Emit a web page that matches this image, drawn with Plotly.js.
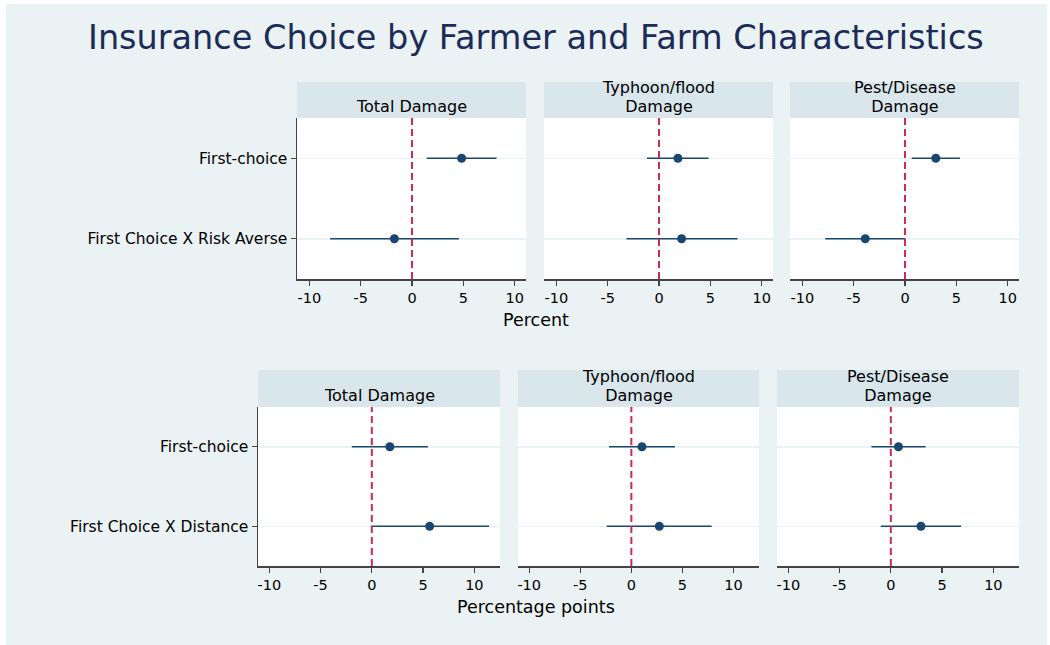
<!DOCTYPE html>
<html>
<head>
<meta charset="utf-8">
<script src="https://cdn.plot.ly/plotly-3.0.1.min.js"></script>
<style>html,body{margin:0;padding:0;background:#fff;}#chart{width:1050px;height:645px;}</style>
</head>
<body>
<div id="chart"></div>
<script>
// ---- data ----
const chartTitle = 'Insurance Choice by Farmer and Farm Characteristics';
const panelTitles = ['Total Damage', 'Typhoon/flood<br>Damage', 'Pest/Disease<br>Damage'];
const rowsTop = ['First-choice', 'First Choice X Risk Averse'];
const rowsBottom = ['First-choice', 'First Choice X Distance'];
const xTickVals = [-10, -5, 0, 5, 10];
const xTickText = ['-10', '-5', '0', '5', '10'];
const xTitleTop = 'Percent';
const xTitleBottom = 'Percentage points';

const topTotalEst = [4.83, -1.72];
const topTotalLo = [1.43, -7.97];
const topTotalHi = [8.23, 4.57];
const topTyphoonEst = [1.84, 2.20];
const topTyphoonLo = [-1.17, -3.17];
const topTyphoonHi = [4.82, 7.64];
const topPestEst = [3.00, -3.87];
const topPestLo = [0.65, -7.77];
const topPestHi = [5.35, 0.03];

const botTotalEst = [1.76, 5.64];
const botTotalLo = [-1.95, -0.10];
const botTotalHi = [5.47, 11.43];
const botTyphoonEst = [1.04, 2.74];
const botTyphoonLo = [-2.19, -2.41];
const botTyphoonHi = [4.27, 7.86];
const botPestEst = [0.75, 2.94];
const botPestLo = [-1.89, -0.98];
const botPestHi = [3.39, 6.85];

// ---- layout geometry (pixels) ----
const W = 1050, H = 645;
const fx = p => p / W;
const fy = p => 1 - p / H;
const FONT = 'DejaVu Sans, Arial, sans-serif';
const NAVY = '#1a476f';
const REF = '#cf2a55';

const panels = [
  {est: topTotalEst, lo: topTotalLo, hi: topTotalHi, rows: rowsTop, x: [297, 526], y: [118, 279], strip: 82, range: [-11.2, 11.1], title: panelTitles[0]},
  {est: topTyphoonEst, lo: topTyphoonLo, hi: topTyphoonHi, rows: rowsTop, x: [544, 773], y: [118, 279], strip: 82, range: [-11.2, 11.1], title: panelTitles[1]},
  {est: topPestEst, lo: topPestLo, hi: topPestHi, rows: rowsTop, x: [790, 1019], y: [118, 279], strip: 82, range: [-11.2, 11.1], title: panelTitles[2]},
  {est: botTotalEst, lo: botTotalLo, hi: botTotalHi, rows: rowsBottom, x: [258, 500], y: [407, 566], strip: 370, range: [-11.1, 12.5], title: panelTitles[0]},
  {est: botTyphoonEst, lo: botTyphoonLo, hi: botTyphoonHi, rows: rowsBottom, x: [518, 759], y: [407, 566], strip: 370, range: [-11.1, 12.5], title: panelTitles[1]},
  {est: botPestEst, lo: botPestLo, hi: botPestHi, rows: rowsBottom, x: [777, 1019], y: [407, 566], strip: 370, range: [-11.1, 12.5], title: panelTitles[2]}
];

const traces = [];
const layout = {
  width: W, height: H,
  margin: {l: 0, r: 0, t: 0, b: 0},
  paper_bgcolor: '#eaf2f3',
  plot_bgcolor: '#ffffff',
  showlegend: false,
  font: {family: FONT, color: '#000'},
  shapes: [],
  annotations: []
};

panels.forEach((p, i) => {
  const n = i + 1;
  const xa = 'x' + (n === 1 ? '' : n), ya = 'y' + (n === 1 ? '' : n);
  const xk = 'xaxis' + (n === 1 ? '' : n), yk = 'yaxis' + (n === 1 ? '' : n);
  const first = (i % 3 === 0);
  traces.push({
    type: 'scatter', mode: 'markers', xaxis: xa, yaxis: ya,
    x: p.est, y: p.rows,
    marker: {color: NAVY, size: 9},
    error_x: {type: 'data', symmetric: false,
      array: p.est.map((v, k) => p.hi[k] - v),
      arrayminus: p.est.map((v, k) => v - p.lo[k]),
      width: 0, thickness: 1.6, color: NAVY},
    hoverinfo: 'x+y'
  });
  layout[xk] = {
    domain: [fx(p.x[0]), fx(p.x[1])], anchor: ya, range: p.range,
    tickvals: xTickVals, ticktext: xTickText,
    ticks: 'outside', ticklen: 5, tickwidth: 1.3, tickcolor: '#444',
    showline: true, linecolor: '#444', linewidth: 1.5,
    showgrid: false, zeroline: false,
    tickfont: {family: FONT, size: 14.5, color: '#000'}
  };
  layout[yk] = {
    domain: [fy(p.y[1]), fy(p.y[0])], anchor: xa, type: 'category',
    categoryorder: 'array', categoryarray: p.rows,
    range: [1.5, -0.5],
    showgrid: true, gridcolor: '#eaf2f3', gridwidth: 1.5,
    zeroline: false,
    showline: first, linecolor: '#444', linewidth: 1.5,
    ticks: first ? 'outside' : '', ticklen: 5, tickwidth: 1.3, tickcolor: '#444',
    showticklabels: first,
    tickfont: {family: FONT, size: 15.5, color: '#000'}
  };
  // reference line at zero
  layout.shapes.push({type: 'line', xref: xa, yref: ya + ' domain', x0: 0, x1: 0, y0: 0, y1: 1,
    line: {color: REF, width: 2, dash: '7px,4px'}});
  // header strip
  layout.shapes.push({type: 'rect', xref: 'paper', yref: 'paper',
    x0: fx(p.x[0]), x1: fx(p.x[1]), y0: fy(p.y[0]), y1: fy(p.strip),
    fillcolor: '#d9e6eb', line: {width: 0}, layer: 'above'});
  // header text: base size sets line spacing, inner span sets glyph size
  const lines = p.title.split('<br>');
  const txt = lines.map(l => '<span style="font-size:16px">' + l + '</span>').join('<br>');
  layout.annotations.push({xref: 'paper', yref: 'paper',
    x: fx((p.x[0] + p.x[1]) / 2), y: fy(p.y[0] - 1), xanchor: 'center', yanchor: 'bottom',
    borderpad: 0,
    text: txt, showarrow: false, font: {family: FONT, size: 14.6, color: '#000'}});
});

// white frame edges
layout.shapes.push({type: 'rect', xref: 'paper', yref: 'paper', x0: 0, x1: fx(6), y0: 0, y1: 1, fillcolor: '#fff', line: {width: 0}, layer: 'above'});
layout.shapes.push({type: 'rect', xref: 'paper', yref: 'paper', x0: 0, x1: 1, y0: fy(4), y1: 1, fillcolor: '#fff', line: {width: 0}, layer: 'above'});
layout.shapes.push({type: 'rect', xref: 'paper', yref: 'paper', x0: fx(1047), x1: 1, y0: 0, y1: 1, fillcolor: '#fff', line: {width: 0}, layer: 'above'});

// title and axis titles
layout.annotations.push({xref: 'paper', yref: 'paper', x: fx(536), y: fy(37), xanchor: 'center', yanchor: 'middle',
  text: chartTitle, showarrow: false, font: {family: FONT, size: 33.5, color: '#1c2b57'}});
layout.annotations.push({xref: 'paper', yref: 'paper', x: fx(536), y: fy(320), xanchor: 'center', yanchor: 'middle',
  text: xTitleTop, showarrow: false, font: {family: FONT, size: 17.5, color: '#000'}});
layout.annotations.push({xref: 'paper', yref: 'paper', x: fx(536), y: fy(607), xanchor: 'center', yanchor: 'middle',
  text: xTitleBottom, showarrow: false, font: {family: FONT, size: 17.5, color: '#000'}});

Plotly.newPlot('chart', traces, layout, {displayModeBar: false, staticPlot: true});
</script>
</body>
</html>
